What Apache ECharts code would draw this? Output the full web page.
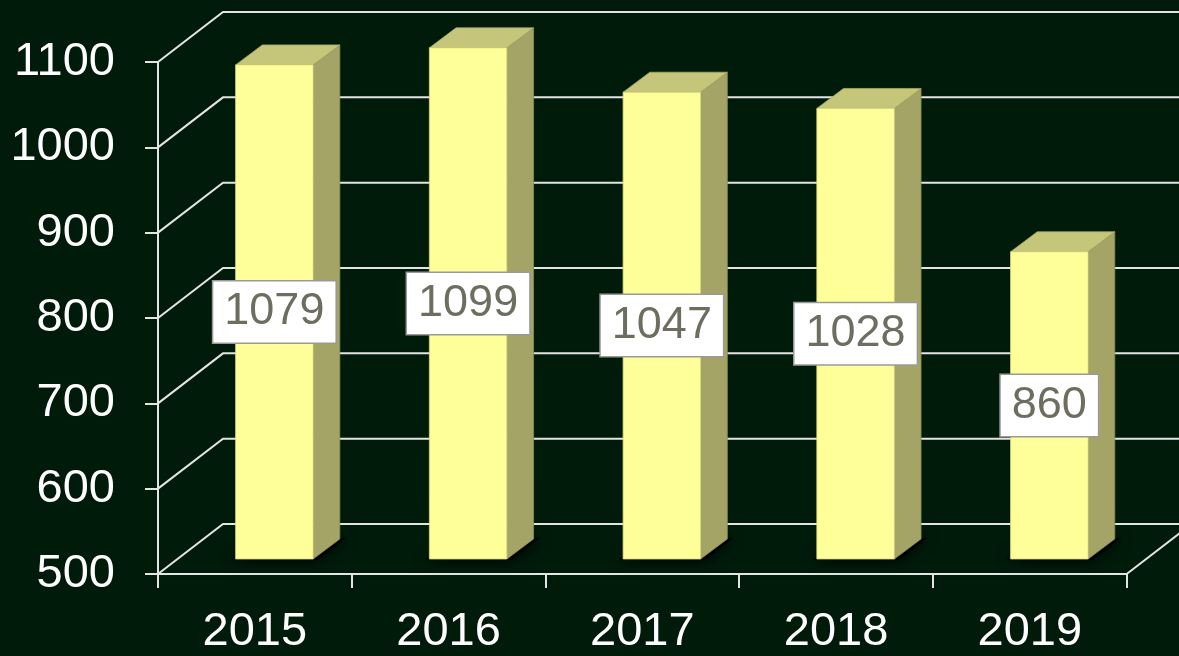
<!DOCTYPE html>
<html>
<head>
<meta charset="utf-8">
<script src="https://cdn.jsdelivr.net/npm/echarts@6/dist/echarts.min.js"></script>
<style>html,body{margin:0;padding:0;background:#001b0a;}#c{width:1179px;height:656px;}</style>
</head>
<body>
<div id="c"></div>
<script>
const categories = ['2015', '2016', '2017', '2018', '2019'];
const values = [1079, 1099, 1047, 1028, 860];
const yTicks = [500, 600, 700, 800, 900, 1000, 1100];

const FONT = '"Liberation Sans", Arial, sans-serif';
const WALL_DX = 65, WALL_DY = -50;   // back wall offset
const BAR_DX = 19.5, BAR_DY = -15;   // bar front face offset from front plane
const DEP_DX = 26.7, DEP_DY = -20;   // bar depth
const GRID_COLOR = '#e4e4e4';

const chart = echarts.init(document.getElementById('c'), null, {renderer: 'canvas'});

chart.setOption({
  backgroundColor: '#001b0a',
  animation: false,
  grid: {left: 158, right: 52.3, top: 62, bottom: 78.3},
  xAxis: {
    type: 'category',
    data: categories,
    axisLine: {show: true, lineStyle: {color: GRID_COLOR, width: 2}},
    axisTick: {show: true, length: 14, lineStyle: {color: GRID_COLOR, width: 2}},
    axisLabel: {color: '#ffffff', fontSize: 47, fontFamily: FONT, margin: 35},
    splitLine: {show: false}
  },
  yAxis: {
    type: 'value',
    min: 500, max: 1100, interval: 100,
    axisLine: {show: true, lineStyle: {color: GRID_COLOR, width: 2}},
    axisTick: {show: true, length: 13, lineStyle: {color: GRID_COLOR, width: 2}},
    axisLabel: {color: '#ffffff', fontSize: 47, fontFamily: FONT, margin: 43, formatter: function (v) { return String(v); }},
    splitLine: {show: false}
  },
  series: [
    {
      type: 'custom',
      silent: true,
      z: 1,
      data: yTicks.map(v => [0, v]),
      encode: {x: 0, y: 1},
      renderItem: function (params, api) {
        const v = api.value(1);
        const cs = params.coordSys;
        const p = api.coord([0, v]);
        const x0 = cs.x, y = p[1];
        const right = cs.x + cs.width;
        const children = [{
          type: 'polyline',
          shape: {points: [[x0, y], [x0 + WALL_DX, y + WALL_DY], [right + WALL_DX + 200, y + WALL_DY]]},
          style: {stroke: GRID_COLOR, lineWidth: 2, fill: null}
        }];
        if (v === 500) {
          children.push({
            type: 'line',
            shape: {x1: right, y1: y, x2: right + WALL_DX, y2: y + WALL_DY},
            style: {stroke: GRID_COLOR, lineWidth: 2}
          });
        }
        return {type: 'group', children: children};
      }
    },
    {
      type: 'custom',
      silent: true,
      z: 3,
      data: values.map((v, i) => [i, v]),
      encode: {x: 0, y: 1},
      renderItem: function (params, api) {
        const i = api.value(0), v = api.value(1);
        const top = api.coord([i, v]);
        const bot = api.coord([i, 500]);
        const w = api.size([1, 0])[0] * 0.4;
        const x0 = top[0] - w / 2 + BAR_DX, x1 = x0 + w;
        const yt = top[1] + BAR_DY, yb = bot[1] + BAR_DY;
        return {
          type: 'group',
          children: [
            {
              type: 'polygon',
              shape: {points: [[x0 - 4, yb + 1], [x1 + 4, yb + 1], [x1 + DEP_DX + 6, yb + DEP_DY - 1], [x0 + DEP_DX, yb + DEP_DY - 1]]},
              style: {fill: '#000000', shadowBlur: 14, shadowColor: 'rgba(0,0,0,0.95)'}
            },
            {
              type: 'polygon',
              shape: {points: [[x1, yt], [x1 + DEP_DX, yt + DEP_DY], [x1 + DEP_DX, yb + DEP_DY], [x1, yb]]},
              style: {fill: '#a4a466', stroke: '#8e8e55', lineWidth: 0.8}
            },
            {
              type: 'polygon',
              shape: {points: [[x0, yt], [x0 + DEP_DX, yt + DEP_DY], [x1 + DEP_DX, yt + DEP_DY], [x1, yt]]},
              style: {fill: '#c6c67b', stroke: '#a8a862', lineWidth: 0.8}
            },
            {
              type: 'rect',
              shape: {x: x0, y: yt, width: w, height: yb - yt},
              style: {fill: '#ffff99', stroke: '#d9d982', lineWidth: 0.8}
            },
            {
              type: 'text',
              x: (x0 + x1) / 2,
              y: (yt + yb) / 2,
              style: {
                text: String(v),
                fill: '#6e6e60',
                font: '45px ' + FONT,
                align: 'center',
                verticalAlign: 'middle',
                backgroundColor: '#ffffff',
                borderColor: '#9a9a9a',
                borderWidth: 1.5,
                padding: [8, 11, 8, 11]
              }
            }
          ]
        };
      }
    }
  ]
});
</script>
</body>
</html>
